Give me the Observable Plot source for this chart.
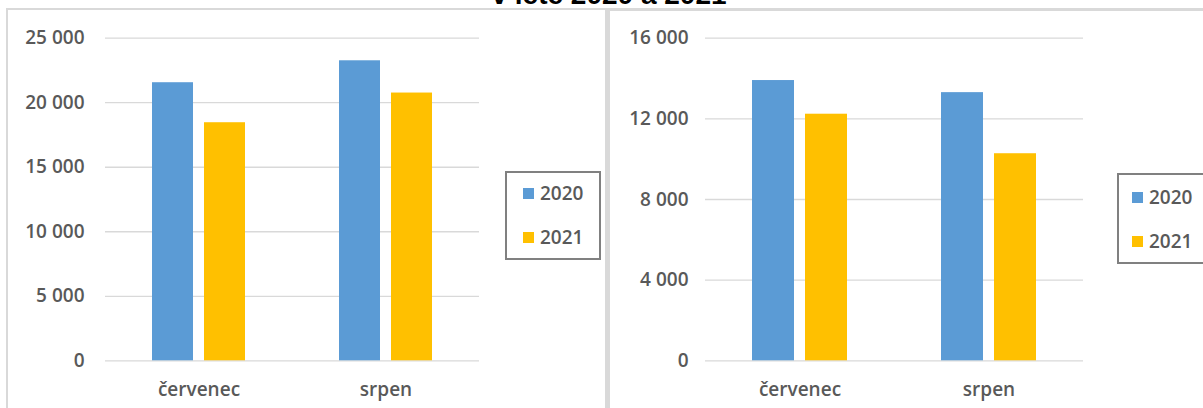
<!DOCTYPE html>
<html>
<head>
<meta charset="utf-8">
<script src="https://cdn.jsdelivr.net/npm/d3@7"></script>
<script src="https://cdn.jsdelivr.net/npm/@observablehq/plot@0.6"></script>
<style>
  html, body { margin: 0; padding: 0; background: #fff; }
  #root { position: relative; width: 1203px; height: 408px; overflow: hidden; background: #fff; }
  .panel { position: absolute; border-color: #d9d9d9; border-style: solid; box-sizing: border-box; }
  .title { position: absolute; left: 0; width: 1218px; top: -19px; text-align: center;
           font: bold 28px "Liberation Sans", Arial, sans-serif; line-height: 28px; color: #000; white-space: nowrap; }
  .chart { position: absolute; top: 0; }
  .legend { position: absolute; border: 2px solid #808080; box-sizing: border-box; background: #fff;
            font-family: "Open Sans", sans-serif; font-weight: 600; font-size: 19px; color: #595959; }
  .item { position: absolute; display: flex; align-items: center; white-space: nowrap; line-height: 22px; }
  .sw { width: 11px; height: 11px; margin-right: 6px; }
</style>
</head>
<body>
<div id="root">
  <div class="title">v létě 2020 a 2021</div>
  <div class="panel" style="left:6px; top:8px; width:601px; height:420px; border-width:2px 2px 0 2px;"></div>
  <div class="panel" style="left:607px; top:8px; width:700px; height:420px; border-width:3px 0 0 3px;"></div>
  <div class="chart" id="left" style="left:0px;"></div>
  <div class="chart" id="right" style="left:600px;"></div>
</div>
<script>
const months = ["červenec", "srpen"];
const years = ["2020", "2021"];
const colors = ["#5B9BD5", "#FFC000"];

const left2020 = [21550, 23250];
const left2021 = [18450, 20750];
const leftTicks = [0, 5000, 10000, 15000, 20000, 25000];

const right2020 = [13900, 13300];
const right2021 = [12230, 10270];
const rightTicks = [0, 4000, 8000, 12000, 16000];

const fmt = d3.formatLocale({thousands: " ", grouping: [3], decimal: ",", currency: ["", ""]}).format(",d");

function panel(v2020, v2021, ticks, width, mRight, tickPad) {
  const data = months.flatMap((m, i) => [
    {month: m, year: years[0], value: v2020[i]},
    {month: m, year: years[1], value: v2021[i]}
  ]);
  return Plot.plot({
    width, height: 408,
    marginLeft: 104, marginRight: mRight, marginTop: 37.7, marginBottom: 47.7,
    style: {background: "transparent", fontFamily: "'Open Sans', sans-serif", fontSize: "19px",
            fontWeight: 600, color: "#595959", overflow: "visible"},
    fx: {domain: months, padding: 0, label: null, axis: "bottom", tickSize: 0, tickPadding: 22},
    x: {domain: years, paddingInner: 0.21, paddingOuter: 0.875, axis: null},
    y: {domain: [0, ticks[ticks.length - 1]], ticks, tickFormat: fmt, label: null, tickSize: 0, tickPadding: tickPad},
    color: {domain: years, range: colors},
    marks: [
      Plot.gridY(ticks, {stroke: "#d9d9d9", strokeOpacity: 1, strokeWidth: 1.3}),
      Plot.barY(data, {fx: "month", x: "year", y: "value", fill: "year"})
    ]
  });
}

document.getElementById("left").append(panel(left2020, left2021, leftTicks, 600, 121, 21));
document.getElementById("right").append(panel(right2020, right2021, rightTicks, 603, 120, 17));

function legend(box, sw, txtGap, rowGap) {
  const el = document.createElement("div");
  el.className = "legend";
  Object.assign(el.style, box);
  years.forEach((y, i) => {
    const it = document.createElement("div");
    it.className = "item";
    it.style.left = sw.x + "px";
    it.style.top = (sw.y + i * rowGap) + "px";
    const s = document.createElement("div");
    s.className = "sw";
    s.style.background = colors[i];
    s.style.marginRight = txtGap + "px";
    const t = document.createElement("span");
    t.textContent = y;
    it.append(s, t);
    el.append(it);
  });
  document.getElementById("root").append(el);
}
legend({left: "505px", top: "171px", width: "96px", height: "89px"}, {x: 16, y: 9}, 6, 44);
legend({left: "1117px", top: "173px", width: "120px", height: "91px"}, {x: 13, y: 11}, 6, 44);
</script>
</body>
</html>
